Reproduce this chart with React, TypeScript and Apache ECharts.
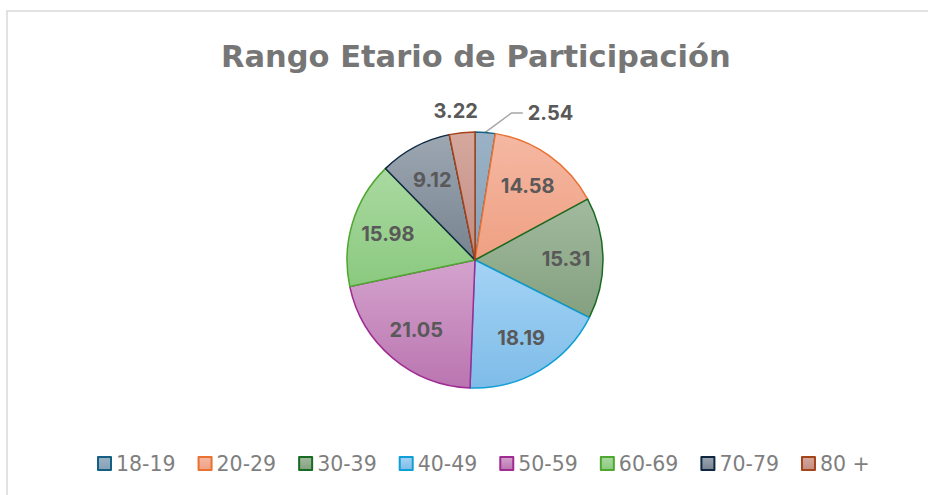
import React, { useEffect, useRef } from "react";
import * as echarts from "echarts";

const categories = ["18-19", "20-29", "30-39", "40-49", "50-59", "60-69", "70-79", "80 +"];
const values = [2.54, 14.58, 15.31, 18.19, 21.05, 15.98, 9.12, 3.22];
const fillTop = ["#9bb2c6", "#f5b8a3", "#a2ba9e", "#a4d3f5", "#d4a3cd", "#aad9a1", "#9ca7b2", "#d5a89e"];
const fillBottom = ["#86a0b6", "#efa082", "#84a080", "#7ebce8", "#ba75b0", "#8bc97f", "#77838f", "#c28c82"];
const borders = ["#156082", "#e97132", "#196b24", "#0f9ed5", "#a02b93", "#4ea72e", "#0e2841", "#a5441a"];
const outsideLabelIdx = [0, 7];

const FONT = "Inter, 'Open Sans', sans-serif";
const WIDE = "'DejaVu Sans', sans-serif";

export default function App() {
  const ref = useRef<HTMLDivElement>(null);
  useEffect(() => {
    if (!ref.current) return;
    const chart = echarts.init(ref.current, undefined, { renderer: "svg" });
    const grad = (i: number) =>
      new echarts.graphic.LinearGradient(0, 0, 0, 1, [
        { offset: 0, color: fillTop[i] },
        { offset: 1, color: fillBottom[i] },
      ]);
    const labelStyle = {
      color: "#595959",
      fontSize: 20,
      fontWeight: "bold" as const,
      fontFamily: FONT,
      formatter: (p: any) => String(p.value),
    };
    const mainData = categories.map((name, i) => {
      const item: any = {
        name,
        value: values[i],
        itemStyle: { color: grad(i), borderColor: borders[i], borderWidth: 1.5 },
        label: { show: false },
        labelLine: { show: false },
      };
      if (i === 0) {
        item.label = { show: true, position: "outside", padding: [0, 0, 8, 0], ...labelStyle };
        item.labelLine = { show: true, length: 19.5, length2: 36, lineStyle: { color: "#a6a6a6", width: 1.5 } };
      } else if (i === 7) {
        item.label = { show: true, position: "outside", ...labelStyle };
        item.labelLine = { show: false, length: 22, length2: -23 };
      }
      return item;
    });
    const innerData = categories.map((name, i) => ({
      name,
      value: values[i],
      label: { show: outsideLabelIdx.indexOf(i) < 0 },
    }));
    chart.setOption({
      animation: false,
      backgroundColor: "#ffffff",
      title: {
        text: "Rango Etario de Participación",
        left: 216,
        top: 36,
        textStyle: { fontSize: 30.5, fontWeight: "bold", color: "#767676", fontFamily: WIDE },
      },
      legend: {
        data: categories,
        left: 92,
        top: 448,
        icon: "rect",
        itemWidth: 13,
        itemHeight: 13,
        itemGap: 22,
        itemStyle: { borderWidth: 2 },
        textStyle: { fontSize: 20.5, color: "#7f7f7f", fontFamily: WIDE },
      },
      graphic: [
        {
          type: "rect",
          shape: { x: 7, y: 11, width: 1000, height: 1000 },
          style: { fill: "none", stroke: "#d9d9d9", lineWidth: 1.5 },
          silent: true,
          z: -1,
        },
      ],
      series: [
        {
          type: "pie",
          center: [475, 260],
          radius: [0, 128],
          startAngle: 90,
          clockwise: true,
          avoidLabelOverlap: false,
          data: mainData,
          labelLayout: (params: any) => {
            if (params.dataIndex === 0 && params.labelLinePoints) {
              const p = params.labelLinePoints;
              return {
                labelLinePoints: [p[0], [p[0][0] + 0.7 * (p[2][0] - p[0][0]), p[1][1]], p[2]],
              };
            }
            return undefined;
          },
        },
        {
          type: "pie",
          center: [475, 260],
          radius: [0, 176],
          startAngle: 90,
          clockwise: true,
          silent: true,
          avoidLabelOverlap: false,
          itemStyle: { color: "rgba(0,0,0,0)", borderWidth: 0 },
          label: { position: "inside", ...labelStyle },
          labelLine: { show: false },
          data: innerData,
        },
      ],
    });
    return () => chart.dispose();
  }, []);
  return <div ref={ref} style={{ position: "fixed", left: 0, top: 0, width: 928, height: 495 }} />;
}
